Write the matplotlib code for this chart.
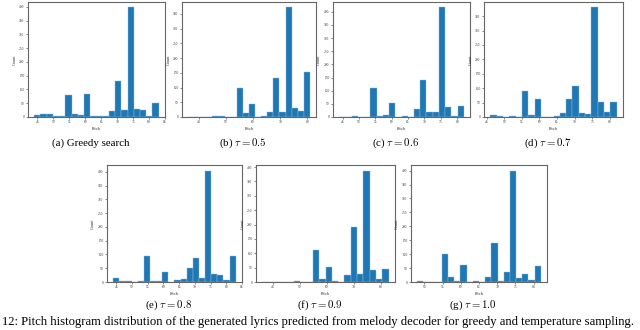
import numpy as np
import matplotlib
matplotlib.use("Agg")
import matplotlib.pyplot as plt
from matplotlib.ticker import MultipleLocator

# histogram counts (20 bins each)
greedy_counts = [8, 10, 10, 3, 3, 81, 12, 8, 83, 5, 2, 5, 20, 131, 26, 398, 29, 27, 2, 52]
tau05_counts = [1, 1, 0, 1, 3, 3, 1, 0, 100, 13, 45, 0, 4, 17, 134, 17, 372, 31, 21, 152]
tau06_counts = [1, 1, 2, 1, 0, 111, 4, 7, 52, 0, 2, 0, 29, 140, 20, 19, 416, 38, 5, 43]
tau07_counts = [7, 2, 0, 4, 0, 89, 8, 64, 0, 0, 3, 14, 62, 109, 15, 12, 380, 51, 18, 51]
tau08_counts = [14, 3, 2, 0, 2, 95, 5, 3, 38, 0, 7, 10, 50, 87, 15, 405, 30, 24, 6, 93]
tau09_counts = [1, 1, 1, 0, 0, 2, 0, 0, 112, 12, 52, 3, 0, 26, 191, 27, 388, 43, 12, 46]
tau10_counts = [2, 0, 0, 0, 101, 19, 3, 60, 0, 2, 0, 19, 140, 3, 36, 400, 13, 30, 7, 57]

# pitch range (min, max) of each histogram
greedy_range = (44, 83)
tau05_range = (36, 81)
tau06_range = (44, 82)
tau07_range = (46, 82)
tau08_range = (44, 83)
tau09_range = (36, 83)
tau10_range = (48, 82)

greedy_xticks = [45, 50, 55, 60, 65, 70, 75, 80, 85]
tau05_xticks = [40, 50, 60, 70, 80]
tau06_xticks = [45, 50, 55, 60, 65, 70, 75, 80]
tau07_xticks = [45, 50, 55, 60, 65, 70, 75, 80]
tau08_xticks = [45, 50, 55, 60, 65, 70, 75, 80, 85]
tau09_xticks = [40, 50, 60, 70, 80]
tau10_xticks = [50, 55, 60, 65, 70, 75, 80]

captions = ["(a) Greedy search", r"(b) $\tau = 0.5$", r"(c) $\tau = 0.6$",
            r"(d) $\tau = 0.7$", r"(e) $\tau = 0.8$", r"(f) $\tau = 0.9$",
            r"(g) $\tau = 1.0$"]

figure_caption = ("12: Pitch histogram distribution of the generated lyrics predicted from "
                  "melody decoder for greedy and temperature sampling.")

plt.rcParams["font.family"] = ["Liberation Serif", "DejaVu Serif"]
plt.rcParams["mathtext.fontset"] = "cm"

W, H = 640, 330

# axes boxes in pixels: left, top, right, bottom
boxes = [
    (28, 2, 165, 117),
    (182, 2, 316, 117),
    (333, 2, 470, 117),
    (484, 2, 623, 117),
    (107, 165, 242, 282),
    (256, 165, 395, 282),
    (411, 165, 547, 282),
]
caption_y = [143, 143, 143, 143, 305, 305, 305]


def draw_hist(fig, box, counts, prange, xticks, caption, cap_y):
    l, t, r, b = box
    ax = fig.add_axes([l / W, 1 - b / H, (r - l) / W, (b - t) / H])
    edges = np.linspace(prange[0], prange[1], len(counts) + 1)
    centers = (edges[:-1] + edges[1:]) / 2
    ax.hist(centers, bins=edges, weights=counts, color="#1f77b4",
            edgecolor="#8fbbe0", linewidth=0.3)
    ax.set_xticks(xticks)
    ax.yaxis.set_major_locator(MultipleLocator(50))
    ax.tick_params(labelsize=2.6, length=1.5, width=0.4, pad=1, colors="#333333")
    ax.set_xlabel("Pitch", fontsize=3.2, labelpad=1.5, color="#333333")
    ax.set_ylabel("Count", fontsize=3.2, labelpad=2, color="#333333")
    for s in ax.spines.values():
        s.set_color("#666666")
        s.set_linewidth(0.8)
    fig.text(((l + r) / 2 - 6) / W, 1 - cap_y / H, caption, fontsize=7.8,
             ha="center", va="center")
    return ax


def main():
    fig = plt.figure(figsize=(6.4, 3.3), dpi=100)
    all_counts = [greedy_counts, tau05_counts, tau06_counts, tau07_counts,
                  tau08_counts, tau09_counts, tau10_counts]
    all_ranges = [greedy_range, tau05_range, tau06_range, tau07_range,
                  tau08_range, tau09_range, tau10_range]
    all_xticks = [greedy_xticks, tau05_xticks, tau06_xticks, tau07_xticks,
                  tau08_xticks, tau09_xticks, tau10_xticks]
    for i in range(7):
        draw_hist(fig, boxes[i], all_counts[i], all_ranges[i], all_xticks[i],
                  captions[i], caption_y[i])

    fig.text(0.003, 1 - 322 / H, figure_caption, fontsize=9.1, ha="left", va="center")
    fig.savefig("out.png", dpi=100)


if __name__ == "__main__":
    main()
